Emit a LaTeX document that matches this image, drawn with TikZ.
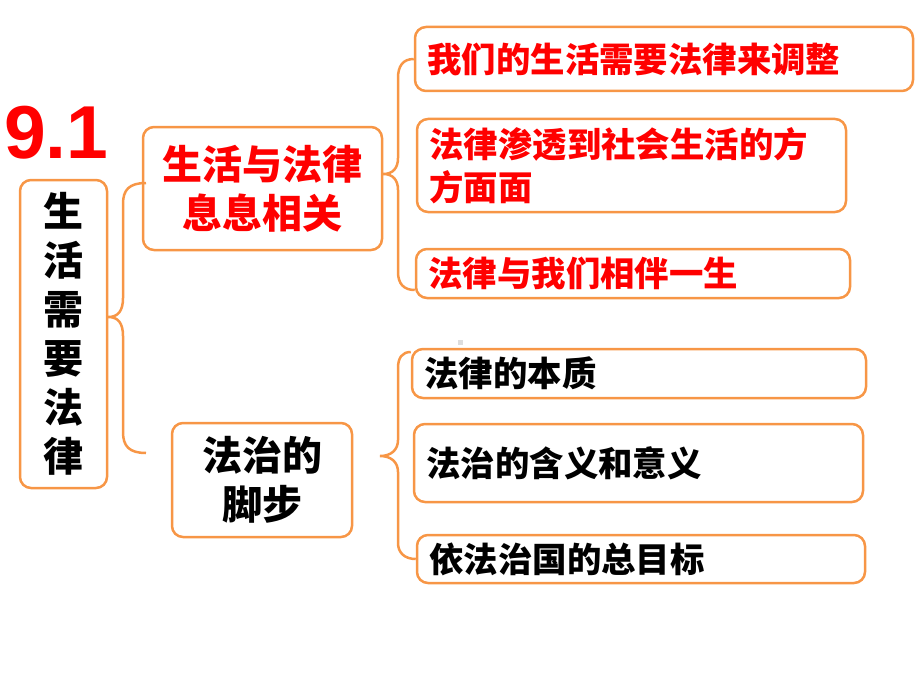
\documentclass[tikz,border=0pt]{standalone}
\usepackage{fontspec}
\setmainfont{Liberation Sans}
\newfontfamily\cjk{Noto Sans CJK SC}
\definecolor{org}{HTML}{F79646}
\definecolor{myred}{HTML}{FF0000}
\definecolor{dotgray}{HTML}{DDDDDD}
\tikzset{
  box/.style={draw=org, line width=2.5pt, rounded corners=11pt, inner xsep=12.5pt, inner ysep=0pt},
  bigtxt/.style={font=\cjk\bfseries\fontsize{40}{49}\selectfont, align=center},
  smalltxt/.style={font=\cjk\bfseries\fontsize{34.4}{43}\selectfont, align=left},
  redtxt/.style={text=myred},
  blacktxt/.style={text=black},
  brace/.style={draw=org, line width=2.5pt}
}
\begin{document}
\begin{tikzpicture}[x=1pt,y=-1pt]
\useasboundingbox (0,0) rectangle (920,690);

% title number
\node[anchor=base west, inner sep=0pt, text=myred, font=\bfseries\fontsize{75}{75}\selectfont] (num) at (4,158) {9.1};

% left vertical box
\node[box, bigtxt, minimum width=87pt, minimum height=308pt, inner xsep=0pt] (L) at (63.5,334) {生\\活\\需\\要\\法\\律};

% middle boxes
\node[box, bigtxt, redtxt, minimum width=239pt, minimum height=123pt, inner xsep=0pt] (A) at (262.5,188.5) {生活与法律\\息息相关};
\node[box, bigtxt, blacktxt, minimum width=180pt, minimum height=114pt, inner xsep=0pt] (B) at (262,480) {法治的\\脚步};

% right boxes (top group)
\node[box, smalltxt, redtxt, minimum width=498pt, minimum height=64pt, text width=473pt] (r1) at (664,59) {我们的生活需要法律来调整};
\node[box, smalltxt, redtxt, minimum width=429pt, minimum height=93pt, text width=404pt] (r2) at (631.5,165.5) {法律渗透到社会生活的方\\方面面};
\node[box, smalltxt, redtxt, minimum width=434pt, minimum height=49pt, text width=409pt] (r3) at (633,273.5) {法律与我们相伴一生};

% right boxes (bottom group)
\node[box, smalltxt, blacktxt, minimum width=454pt, minimum height=49pt, text width=429pt] (r4) at (639,373.5) {法律的本质};
\node[box, smalltxt, blacktxt, minimum width=449pt, minimum height=78pt, text width=424pt] (r5) at (638.5,463) {法治的含义和意义};
\node[box, smalltxt, blacktxt, minimum width=448pt, minimum height=48pt, text width=423pt] (r6) at (641,559) {依法治国的总目标};

% small gray mark
\node[fill=dotgray, minimum size=5pt, inner sep=0pt] (dot) at (460,342) {};

% brace coordinates
\coordinate (t1) at (L.east |- 0,317);
\coordinate (e1a) at (146,183);
\coordinate (e1b) at (146,453);
\coordinate (t2) at (A.east |- 0,174);
\coordinate (e2a) at (r1.west);
\coordinate (e2b) at (r3.west |- 0,290);
\coordinate (t3) at (380,456);
\coordinate (e3a) at (r4.west |- 0,352);
\coordinate (e3b) at (r6.west |- 0,559);

% brace 1
\draw[brace] (e1a) .. controls (129,183) and (123,190) .. (123,204) -- (123,298)
  .. controls (123,311) and (118,317) .. (t1)
  .. controls (118,317) and (123,323) .. (123,336) -- (123,432)
  .. controls (123,446) and (129,453) .. (e1b);
% brace 2
\draw[brace] (e2a) .. controls (403,59) and (398,66) .. (398,78) -- (398,158)
  .. controls (398,168) and (393,174) .. (t2)
  .. controls (393,174) and (398,180) .. (398,190) -- (398,272)
  .. controls (398,284) and (404,290) .. (e2b);
% brace 3
\draw[brace] (e3a) .. controls (402,352) and (398,358) .. (398,368) -- (398,440)
  .. controls (398,450) and (391,456) .. (t3)
  .. controls (391,456) and (398,462) .. (398,472) -- (398,543)
  .. controls (398,553) and (405,559) .. (e3b);
\end{tikzpicture}
\end{document}
